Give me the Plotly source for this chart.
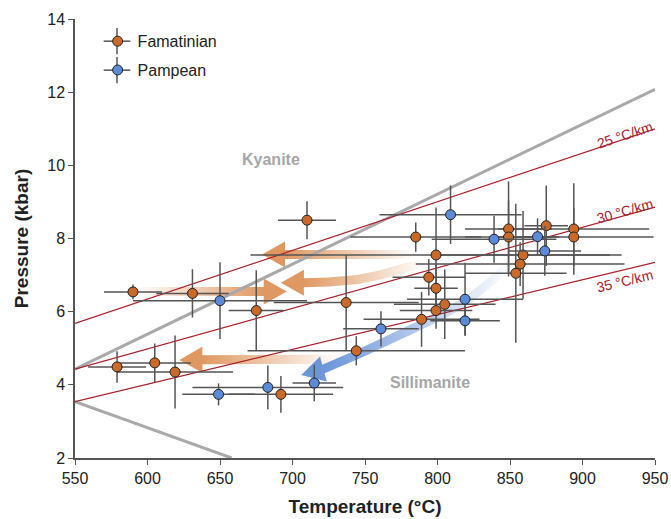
import math
import plotly.graph_objects as go

# ---------------- data ----------------
fam_T = [590, 631, 710, 675, 737, 744, 579, 605, 619, 692, 785, 799, 794, 799, 805, 799, 789,
         849, 849, 875, 894, 894, 859, 857, 854]
fam_P = [6.54, 6.5, 8.5, 6.03, 6.25, 4.93, 4.49, 4.6, 4.35, 3.74, 8.04, 7.55, 6.94, 6.64, 6.2, 6.03, 5.79,
         8.26, 8.04, 8.35, 8.26, 8.04, 7.55, 7.3, 7.05]
fam_Terr = [20, 25, 20, 19, 50, 75, 20, 25, 40, 36, 45, 128, 25, 15, 35, 25, 40,
            30, 30, 15, 52, 55, 60, 72, 35]
fam_Perr = [0.2, 0.66, 0.52, 1.1, 1.3, 0.4, 0.43, 0.53, 1.0, 0.5, 0.4, 1.3, 0.5, 0.65, 0.95, 0.5, 0.75,
            1.3, 1.0, 1.1, 1.25, 0.8, 1.2, 0.6, 1.9]

pam_T = [650, 649, 683, 715, 809, 839, 869, 874, 819, 819, 761]
pam_P = [6.3, 3.74, 3.93, 4.05, 8.65, 7.98, 8.05, 7.66, 6.34, 5.75, 5.53]
pam_Terr = [60, 25, 52, 15, 49, 43, 15, 25, 40, 24, 26]
pam_Perr = [1.05, 0.3, 0.6, 0.5, 0.8, 0.64, 0.5, 0.68, 1.0, 0.4, 0.48]

# reaction lines (T, P endpoints)
ky_sil_T = [550, 950]
ky_sil_P = [4.43, 12.08]
and_sil_T = [550, 658]
and_sil_P = [3.54, 2.0]

# geotherms
geo_labels = ["25 °C/km", "30 °C/km", "35 °C/km"]
geo_T = [550, 950]
geo_P = [[5.68, 11.0], [4.43, 8.86], [3.54, 7.35]]
geo_label_T = [929, 929, 929]
geo_label_P = [10.84, 8.75, 6.83]

# field labels
field_labels = ["Kyanite", "Sillimanite"]
field_T = [685, 795]
field_P = [10.15, 4.07]

# arrow paths (tail -> tip), in T/P
arrows = [
    dict(T=[786, 740, 679], P=[7.56, 7.56, 7.56], color=(221, 143, 84)),
    dict(T=[790, 775, 760, 745, 725, 707, 692], P=[7.32, 7.17, 7.0, 6.88, 6.81, 6.79, 6.79], color=(221, 143, 84)),
    dict(T=[592, 640, 696], P=[6.55, 6.55, 6.55], color=(221, 143, 84)),
    dict(T=[733, 680, 622], P=[4.7, 4.7, 4.68], color=(221, 143, 84)),
    dict(T=[850, 836, 822, 805, 785, 765, 745, 721, 706], P=[7.3, 6.8, 6.35, 5.95, 5.57, 5.2, 4.83, 4.43, 4.27],
         color=(95, 140, 215)),
]

ORANGE = "#C96A2B"
BLUE = "#5B8AD8"
EBAR = "#555555"
FONT = "Arial, Liberation Sans, sans-serif"

# pixel scale (per unit) to build arrow geometry
SX = 580 / 400.0
SY = 439 / 12.0


def to_px(T, P):
    return ((T - 550) * SX, (P - 2) * SY)


def from_px(x, y):
    return (550 + x / SX, 2 + y / SY)


def arrow_polygon(a, head_len=23, head_half=13, half_w=4.5):
    pts = [to_px(t, p) for t, p in zip(a["T"], a["P"])]
    tip = pts[-1]
    prev = pts[-2]
    dx, dy = tip[0] - prev[0], tip[1] - prev[1]
    L = math.hypot(dx, dy)
    ux, uy = dx / L, dy / L
    base = (tip[0] - ux * head_len, tip[1] - uy * head_len)
    shaft = pts[:-2] + [base]
    left, right = [], []
    n = len(shaft)
    for i in range(n):
        if i == 0:
            tx, ty = shaft[1][0] - shaft[0][0], shaft[1][1] - shaft[0][1]
        elif i == n - 1:
            tx, ty = ux, uy
        else:
            tx, ty = shaft[i + 1][0] - shaft[i - 1][0], shaft[i + 1][1] - shaft[i - 1][1]
        tl = math.hypot(tx, ty)
        nx, ny = -ty / tl, tx / tl
        left.append((shaft[i][0] + nx * half_w, shaft[i][1] + ny * half_w))
        right.append((shaft[i][0] - nx * half_w, shaft[i][1] - ny * half_w))
    nx, ny = -uy, ux
    w1 = (base[0] + nx * head_half, base[1] + ny * head_half)
    w2 = (base[0] - nx * head_half, base[1] - ny * head_half)
    poly = left + [w1, tip, w2] + right[::-1] + [left[0]]
    xs, ys = zip(*[from_px(*p) for p in poly])
    tail_T = a["T"][0]
    tip_T = a["T"][-1]
    base_T = from_px(*base)[0]
    return list(xs), list(ys), tail_T, tip_T, base_T


fig = go.Figure()

# arrows (underneath everything)
for a in arrows:
    xs, ys, tail_T, tip_T, base_T = arrow_polygon(a)
    r, g, b = a["color"]
    lo, hi = min(xs), max(xs)
    op = f"rgba({r},{g},{b},0.92)"
    tr = f"rgba({r},{g},{b},0.0)"
    f_base = (base_T - lo) / (hi - lo)
    if tip_T < tail_T:
        cs = [[0, op], [f_base, op], [1, tr]]
    else:
        cs = [[0, tr], [f_base, op], [1, op]]
    fig.add_trace(go.Scatter(x=xs, y=ys, mode="lines", fill="toself", line=dict(width=0),
                             fillgradient=dict(type="horizontal", colorscale=cs, start=lo, stop=hi),
                             showlegend=False, hoverinfo="skip"))

# reaction lines
fig.add_trace(go.Scatter(x=ky_sil_T, y=ky_sil_P, mode="lines", line=dict(color="#A9A9A9", width=3),
                         showlegend=False, hoverinfo="skip"))
fig.add_trace(go.Scatter(x=and_sil_T, y=and_sil_P, mode="lines", line=dict(color="#A9A9A9", width=3),
                         showlegend=False, hoverinfo="skip"))
# geotherms
for gp in geo_P:
    fig.add_trace(go.Scatter(x=geo_T, y=gp, mode="lines", line=dict(color="#A8202A", width=1.2),
                             showlegend=False, hoverinfo="skip"))

fig.add_trace(go.Scatter(
    x=fam_T, y=fam_P, mode="markers", name="Famatinian", legendgroup="a",
    marker=dict(color=ORANGE, size=10, line=dict(color="#222222", width=1)),
    error_x=dict(type="data", array=fam_Terr, color=EBAR, thickness=1.5, width=0),
    error_y=dict(type="data", array=fam_Perr, color=EBAR, thickness=1.5, width=0),
))
fig.add_trace(go.Scatter(
    x=pam_T, y=pam_P, mode="markers", name="Pampean", legendgroup="b",
    marker=dict(color=BLUE, size=10, line=dict(color="#222222", width=1)),
    error_x=dict(type="data", array=pam_Terr, color=EBAR, thickness=1.5, width=0),
    error_y=dict(type="data", array=pam_Perr, color=EBAR, thickness=1.5, width=0),
))

annotations = []
for lab, t, p in zip(field_labels, field_T, field_P):
    annotations.append(dict(x=t, y=p, xref="x", yref="y", text=f"<b>{lab}</b>", showarrow=False,
                            font=dict(size=16, color="#A6A6A6", family=FONT)))
for i, (lab, t, p) in enumerate(zip(geo_labels, geo_label_T, geo_label_P)):
    slope = (geo_P[i][1] - geo_P[i][0]) * SY / ((geo_T[1] - geo_T[0]) * SX)
    ang = -math.degrees(math.atan(slope))
    annotations.append(dict(x=t, y=p, xref="x", yref="y", text=lab, showarrow=False, textangle=ang,
                            font=dict(size=14, color="#A8202A", family=FONT)))

# legend error crosses (paper coords)
shapes = []
for yc in [0.9495, 0.8835]:
    xc = 0.0724
    shapes.append(dict(type="line", xref="paper", yref="paper", x0=xc - 0.023, x1=xc + 0.023, y0=yc, y1=yc,
                       line=dict(color=EBAR, width=1.5)))
    shapes.append(dict(type="line", xref="paper", yref="paper", x0=xc, x1=xc, y0=yc - 0.03, y1=yc + 0.03,
                       line=dict(color=EBAR, width=1.5)))

fig.update_layout(
    width=671, height=519,
    margin=dict(l=75, r=16, t=19, b=61),
    paper_bgcolor="white", plot_bgcolor="white",
    font=dict(family=FONT, size=16, color="#222222"),
    shapes=shapes,
    annotations=annotations,
    legend=dict(x=0.039, y=0.988, xanchor="left", yanchor="top", bgcolor="rgba(0,0,0,0)",
                font=dict(size=16, color="#222222"), tracegroupgap=5),
    xaxis=dict(range=[550, 950], tickvals=[550, 600, 650, 700, 750, 800, 850, 900, 950],
               showgrid=False, zeroline=False, showline=True, linecolor="#555555", linewidth=1.5,
               ticks="outside", ticklen=5, tickcolor="#555555", tickfont=dict(size=16), automargin=False,
               title=dict(text="<b>Temperature (°C)</b>", font=dict(size=19), standoff=14)),
    yaxis=dict(range=[2, 14], tickvals=[2, 4, 6, 8, 10, 12, 14],
               showgrid=False, zeroline=False, showline=True, linecolor="#555555", linewidth=1.5,
               ticks="outside", ticklen=5, tickcolor="#555555", tickfont=dict(size=16), automargin=False,
               title=dict(text="<b>Pressure (kbar)</b>", font=dict(size=19), standoff=14)),
)

fig.write_html("out.html", post_script="document.body.style.margin='0px';",
               config={"displayModeBar": False})
